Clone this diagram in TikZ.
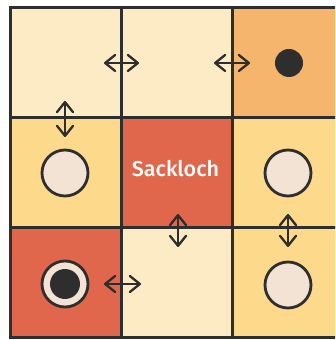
\documentclass[tikz,border=0pt]{standalone}
\usepackage{fontspec}
\newfontfamily\labelfont{Fira Sans Medium}
\usetikzlibrary{arrows.meta}
\definecolor{cream}{HTML}{FDEBC6}
\definecolor{yel}{HTML}{FDD98B}
\definecolor{ora}{HTML}{F6B56C}
\definecolor{redc}{HTML}{E0674B}
\definecolor{ink}{HTML}{2E2E2E}
\definecolor{disc}{HTML}{F3E3D5}
\tikzset{
  x=1pt,y=1pt,
  cellbox/.style={draw=ink,line width=3pt,minimum width=111pt,minimum height=110pt,inner sep=0pt,outer sep=0pt},
  barb/.tip={Straight Barb[length=10pt,width=16pt,line width=2.3pt,line cap=round,line join=round]},
  passage/.style={draw=ink,line width=2.3pt,barb-barb},
  stone/.style={circle,draw=ink,line width=2.8pt,fill=disc,minimum size=46pt,inner sep=0pt},
  goal/.style={circle,fill=ink,minimum size=28pt,inner sep=0pt},
  label/.style={text=white,font=\labelfont\fontsize{21.5}{24}\selectfont,anchor=base}
}
\begin{document}
\begin{tikzpicture}
\useasboundingbox (0,0) rectangle (335,340);
\fill[white] (0,0) rectangle (335,340);
\clip (0,0) rectangle (335,340);
\node[cellbox,fill=cream] (c00) at (65.5,277) {};
\node[cellbox,fill=cream] (c10) at (176.5,277) {};
\node[cellbox,fill=ora]   (c20) at (287.5,277) {};
\node[cellbox,fill=yel]   (c01) at (65.5,167) {};
\node[cellbox,fill=redc]  (c11) at (176.5,167) {};
\node[cellbox,fill=yel]   (c21) at (287.5,167) {};
\node[cellbox,fill=redc]  (c02) at (65.5,57) {};
\node[cellbox,fill=cream] (c12) at (176.5,57) {};
\node[cellbox,fill=yel]   (c22) at (287.5,57) {};
\node[label] (sack) at (175.5,163) {Sackloch};
\node[goal] (g20) at (289,277) {};
\node[stone] (s01) at (65,167) {};
\node[stone] (s21) at (288,167) {};
\node[stone] (s22) at (288,55) {};
\node[stone] (s02) at (65,56) {};
\node[goal,minimum size=30pt] (g02) at (65,56) {};
\coordinate (a1) at (104,277); \coordinate (b1) at (139,277);
\coordinate (a2) at (214,277); \coordinate (b2) at (250,277);
\coordinate (a3) at (65,239);  \coordinate (b3) at (65,203);
\coordinate (a4) at (178,126); \coordinate (b4) at (178,93);
\coordinate (a5) at (288,126); \coordinate (b5) at (288,93);
\coordinate (a6) at (104,56);  \coordinate (b6) at (141,56);
\draw[passage] (a1) -- (b1);
\draw[passage] (a2) -- (b2);
\draw[passage] (a3) -- (b3);
\draw[passage] (a4) -- (b4);
\draw[passage] (a5) -- (b5);
\draw[passage] (a6) -- (b6);
\end{tikzpicture}
\end{document}
